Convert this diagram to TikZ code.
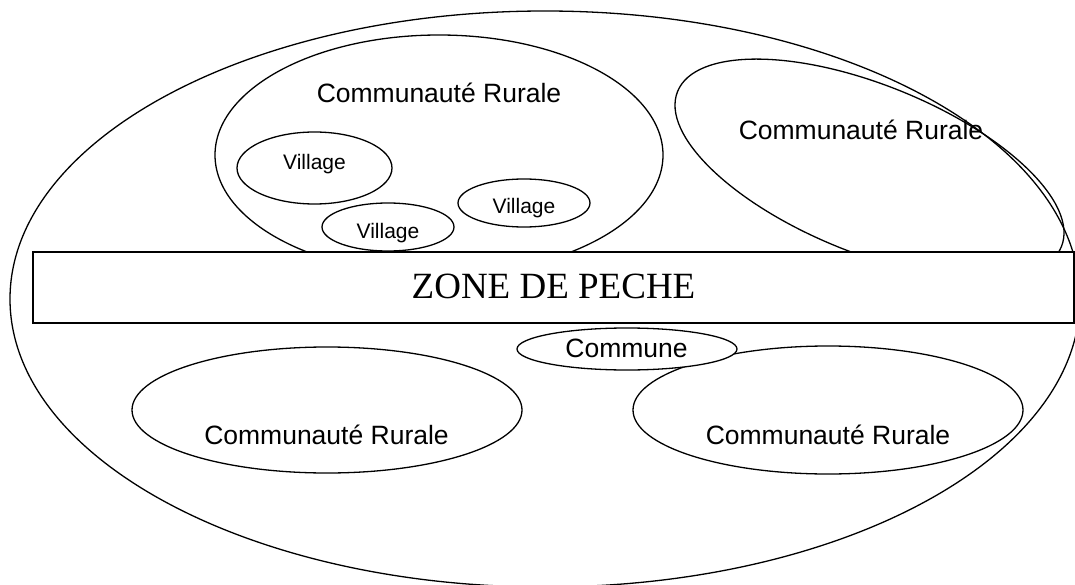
\documentclass[tikz,border=0pt]{standalone}
\usepackage{fontspec}
\setmainfont{Liberation Serif}
\setsansfont{Liberation Sans}
\begin{document}
\begin{tikzpicture}[x=1pt,y=-1pt,
  line width=1.3pt,
  zone/.style={draw,fill=white,line width=1.6pt},
  blob/.style={draw,fill=white},
  crlabel/.style={anchor=base,inner sep=0pt,font=\sffamily\fontsize{26.5}{30}\selectfont},
  villabel/.style={anchor=base,inner sep=0pt,font=\sffamily\fontsize{21}{24}\selectfont},
  zonelabel/.style={anchor=base,inner sep=0pt,font=\rmfamily\fontsize{37}{42}\selectfont}]
\useasboundingbox (0,0) rectangle (1075,585);
\fill[white] (0,0) rectangle (1075,585);
\clip (0,0) rectangle (1075,585);

% whole territory
\draw (545,299) ellipse [x radius=535, y radius=288];

% rural communities
\draw (439,155) ellipse [x radius=224, y radius=120];
\begin{scope}[shift={(869.5pt,-169pt)}, rotate=-22]
  \draw (0,0) ellipse [x radius=207pt, y radius=84pt];
\end{scope}
\draw (327,410) ellipse [x radius=195, y radius=63];
\draw (828,410) ellipse [x radius=195, y radius=64];

% villages and commune
\path[blob] (314.5,168) ellipse [x radius=77.5, y radius=36];
\path[blob] (388,227) ellipse [x radius=66, y radius=24];
\path[blob] (524,203) ellipse [x radius=66, y radius=24];
\path[blob] (627,349) ellipse [x radius=110, y radius=21];

% fishing zone band
\path[zone] (33,252) rectangle (1074,323);
\node[zonelabel] (zone) at (553.5,298) {ZONE DE PECHE};

% labels
\node[crlabel] (crA) at (439,103) {Communauté Rurale};
\node[crlabel] (crB) at (861,140) {Communauté Rurale};
\node[crlabel] (crC) at (326.5,444) {Communauté Rurale};
\node[crlabel] (crD) at (828,444) {Communauté Rurale};
\node[villabel] (v1) at (314.5,170) {Village};
\node[villabel] (v2) at (388,238) {Village};
\node[villabel] (v3) at (524,214) {Village};
\node[crlabel] (commune) at (626.5,357) {Commune};
\end{tikzpicture}
\end{document}
